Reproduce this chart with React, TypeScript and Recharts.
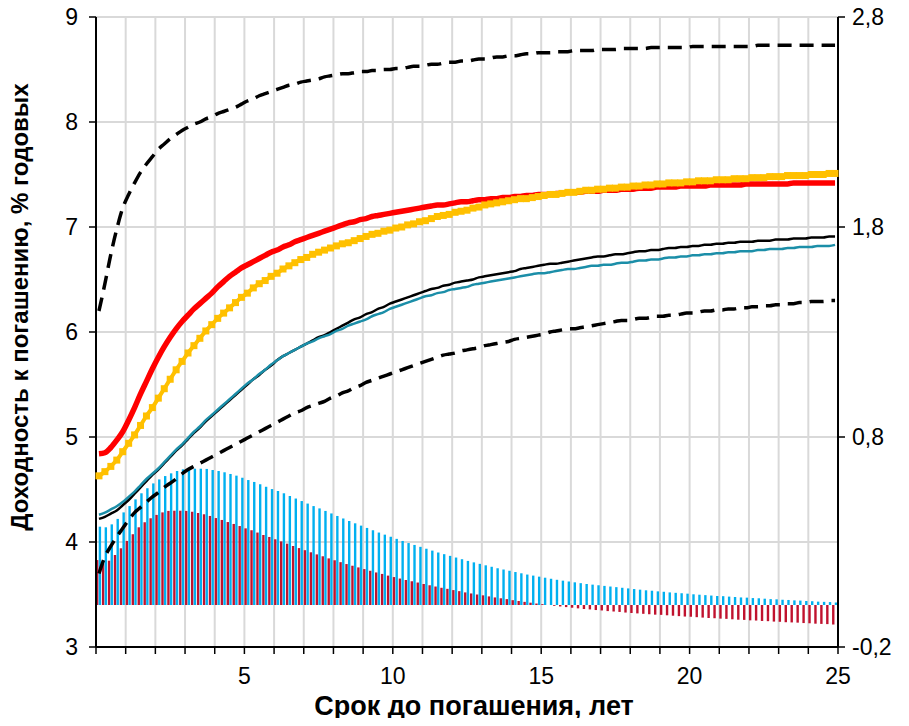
import React from 'react';
import { ComposedChart, Line, Bar, XAxis, YAxis, CartesianGrid } from 'recharts';

const maturities = [
  0.2, 0.4, 0.6, 0.8, 1, 1.2, 1.4, 1.6, 1.8, 2,
  2.2, 2.4, 2.6, 2.8, 3, 3.2, 3.4, 3.6, 3.8, 4,
  4.2, 4.4, 4.6, 4.8, 5, 5.2, 5.4, 5.6, 5.8, 6,
  6.2, 6.4, 6.6, 6.8, 7, 7.2, 7.4, 7.6, 7.8, 8,
  8.2, 8.4, 8.6, 8.8, 9, 9.2, 9.4, 9.6, 9.8, 10,
  10.2, 10.4, 10.6, 10.8, 11, 11.2, 11.4, 11.6, 11.8, 12,
  12.2, 12.4, 12.6, 12.8, 13, 13.2, 13.4, 13.6, 13.8, 14,
  14.2, 14.4, 14.6, 14.8, 15, 15.2, 15.4, 15.6, 15.8, 16,
  16.2, 16.4, 16.6, 16.8, 17, 17.2, 17.4, 17.6, 17.8, 18,
  18.2, 18.4, 18.6, 18.8, 19, 19.2, 19.4, 19.6, 19.8, 20,
  20.2, 20.4, 20.6, 20.8, 21, 21.2, 21.4, 21.6, 21.8, 22,
  22.2, 22.4, 22.6, 22.8, 23, 23.2, 23.4, 23.6, 23.8, 24,
  24.2, 24.4, 24.6, 24.8, 25,
];

const redCurve = [
  4.84, 4.85, 4.90, 4.97, 5.05, 5.16, 5.28, 5.41, 5.53, 5.65,
  5.76, 5.86, 5.95, 6.03, 6.10, 6.16, 6.22, 6.27, 6.32, 6.37,
  6.43, 6.48, 6.53, 6.57, 6.61, 6.64, 6.67, 6.70, 6.73, 6.76,
  6.78, 6.81, 6.83, 6.86, 6.88, 6.90, 6.92, 6.94, 6.96, 6.98,
  7.00, 7.02, 7.04, 7.05, 7.07, 7.08, 7.10, 7.11, 7.12, 7.13,
  7.14, 7.15, 7.16, 7.17, 7.18, 7.19, 7.20, 7.21, 7.21, 7.22,
  7.23, 7.24, 7.24, 7.25, 7.26, 7.26, 7.27, 7.27, 7.28, 7.28,
  7.29, 7.29, 7.30, 7.30, 7.31, 7.31, 7.31, 7.32, 7.32, 7.33,
  7.33, 7.33, 7.34, 7.34, 7.34, 7.35, 7.35, 7.35, 7.36, 7.36,
  7.36, 7.37, 7.37, 7.37, 7.38, 7.38, 7.38, 7.38, 7.39, 7.39,
  7.39, 7.39, 7.39, 7.40, 7.40, 7.40, 7.40, 7.40, 7.40, 7.41,
  7.41, 7.41, 7.41, 7.41, 7.41, 7.41, 7.41, 7.42, 7.42, 7.42,
  7.42, 7.42, 7.42, 7.42, 7.42,
];

const yellowCurve = [
  4.63, 4.67, 4.72, 4.78, 4.86, 4.94, 5.02, 5.11, 5.20, 5.28,
  5.37, 5.46, 5.55, 5.64, 5.72, 5.80, 5.87, 5.94, 6.01, 6.07,
  6.13, 6.18, 6.23, 6.28, 6.33, 6.37, 6.42, 6.46, 6.49, 6.53,
  6.56, 6.60, 6.63, 6.66, 6.69, 6.71, 6.74, 6.76, 6.78, 6.80,
  6.82, 6.84, 6.85, 6.87, 6.89, 6.91, 6.93, 6.94, 6.96, 6.97,
  6.99, 7.00, 7.02, 7.03, 7.05, 7.06, 7.08, 7.10, 7.11, 7.12,
  7.14, 7.15, 7.16, 7.18, 7.19, 7.21, 7.22, 7.23, 7.24, 7.25,
  7.26, 7.27, 7.27, 7.28, 7.29, 7.30, 7.31, 7.31, 7.32, 7.33,
  7.33, 7.34, 7.35, 7.35, 7.36, 7.36, 7.37, 7.37, 7.38, 7.38,
  7.39, 7.39, 7.40, 7.40, 7.41, 7.41, 7.42, 7.42, 7.42, 7.43,
  7.43, 7.44, 7.44, 7.44, 7.45, 7.45, 7.45, 7.46, 7.46, 7.46,
  7.47, 7.47, 7.47, 7.48, 7.48, 7.48, 7.49, 7.49, 7.49, 7.49,
  7.50, 7.50, 7.50, 7.51, 7.51,
];

const blackCurve = [
  4.22, 4.24, 4.27, 4.30, 4.35, 4.40, 4.46, 4.52, 4.58, 4.64,
  4.69, 4.75, 4.81, 4.87, 4.92, 4.98, 5.04, 5.09, 5.15, 5.20,
  5.25, 5.30, 5.35, 5.40, 5.45, 5.50, 5.55, 5.59, 5.64, 5.68,
  5.73, 5.77, 5.80, 5.83, 5.86, 5.89, 5.92, 5.95, 5.97, 6.00,
  6.03, 6.06, 6.09, 6.12, 6.14, 6.17, 6.19, 6.22, 6.24, 6.27,
  6.29, 6.31, 6.33, 6.35, 6.37, 6.39, 6.41, 6.42, 6.44, 6.45,
  6.47, 6.48, 6.49, 6.50, 6.52, 6.53, 6.54, 6.55, 6.56, 6.57,
  6.58, 6.60, 6.61, 6.62, 6.63, 6.64, 6.65, 6.65, 6.66, 6.67,
  6.68, 6.69, 6.70, 6.71, 6.72, 6.72, 6.73, 6.74, 6.74, 6.75,
  6.76, 6.77, 6.77, 6.78, 6.78, 6.79, 6.80, 6.80, 6.81, 6.81,
  6.82, 6.82, 6.83, 6.83, 6.84, 6.84, 6.85, 6.85, 6.86, 6.86,
  6.86, 6.87, 6.87, 6.87, 6.88, 6.88, 6.88, 6.89, 6.89, 6.89,
  6.90, 6.90, 6.90, 6.91, 6.91,
];

const tealCurve = [
  4.26, 4.28, 4.31, 4.34, 4.38, 4.43, 4.48, 4.54, 4.60, 4.65,
  4.70, 4.76, 4.82, 4.88, 4.93, 4.99, 5.05, 5.10, 5.16, 5.21,
  5.26, 5.31, 5.36, 5.41, 5.46, 5.51, 5.55, 5.60, 5.64, 5.69,
  5.73, 5.77, 5.80, 5.83, 5.86, 5.89, 5.91, 5.94, 5.96, 5.98,
  6.01, 6.03, 6.06, 6.08, 6.10, 6.12, 6.15, 6.17, 6.19, 6.22,
  6.24, 6.26, 6.28, 6.30, 6.32, 6.34, 6.35, 6.37, 6.38, 6.40,
  6.41, 6.42, 6.43, 6.45, 6.46, 6.47, 6.48, 6.49, 6.50, 6.51,
  6.52, 6.53, 6.54, 6.55, 6.56, 6.56, 6.57, 6.58, 6.59, 6.60,
  6.60, 6.61, 6.62, 6.63, 6.63, 6.64, 6.64, 6.65, 6.66, 6.66,
  6.67, 6.68, 6.68, 6.69, 6.69, 6.70, 6.71, 6.71, 6.72, 6.72,
  6.73, 6.73, 6.74, 6.74, 6.75, 6.75, 6.76, 6.76, 6.77, 6.77,
  6.77, 6.78, 6.78, 6.79, 6.79, 6.79, 6.80, 6.80, 6.81, 6.81,
  6.81, 6.82, 6.82, 6.82, 6.83,
];

const upperBand = [
  6.20, 6.46, 6.74, 6.98, 7.18, 7.31, 7.42, 7.52, 7.60, 7.67,
  7.74, 7.79, 7.84, 7.88, 7.92, 7.95, 7.98, 8.00, 8.03, 8.05,
  8.08, 8.10, 8.12, 8.14, 8.17, 8.20, 8.22, 8.25, 8.27, 8.29,
  8.31, 8.33, 8.35, 8.36, 8.38, 8.39, 8.40, 8.41, 8.43, 8.44,
  8.45, 8.46, 8.46, 8.47, 8.48, 8.48, 8.49, 8.49, 8.50, 8.50,
  8.51, 8.51, 8.52, 8.53, 8.53, 8.54, 8.55, 8.55, 8.56, 8.57,
  8.57, 8.58, 8.58, 8.59, 8.60, 8.60, 8.61, 8.62, 8.62, 8.63,
  8.63, 8.64, 8.65, 8.65, 8.66, 8.66, 8.66, 8.67, 8.67, 8.67,
  8.68, 8.68, 8.68, 8.68, 8.69, 8.69, 8.69, 8.69, 8.70, 8.70,
  8.70, 8.70, 8.70, 8.71, 8.71, 8.71, 8.71, 8.71, 8.71, 8.71,
  8.72, 8.72, 8.72, 8.72, 8.72, 8.72, 8.72, 8.72, 8.72, 8.72,
  8.72, 8.73, 8.73, 8.73, 8.73, 8.73, 8.73, 8.73, 8.73, 8.73,
  8.73, 8.73, 8.73, 8.73, 8.73,
];

const lowerBand = [
  3.70, 3.86, 3.96, 4.05, 4.13, 4.21, 4.28, 4.33, 4.38, 4.43,
  4.47, 4.52, 4.56, 4.60, 4.65, 4.69, 4.72, 4.75, 4.78, 4.81,
  4.84, 4.87, 4.90, 4.93, 4.96, 4.99, 5.02, 5.05, 5.08, 5.11,
  5.14, 5.17, 5.20, 5.23, 5.25, 5.28, 5.30, 5.32, 5.34, 5.37,
  5.39, 5.42, 5.44, 5.47, 5.49, 5.52, 5.54, 5.56, 5.58, 5.60,
  5.62, 5.64, 5.66, 5.68, 5.70, 5.72, 5.74, 5.76, 5.78, 5.79,
  5.80, 5.82, 5.83, 5.84, 5.85, 5.87, 5.88, 5.89, 5.90, 5.91,
  5.93, 5.94, 5.95, 5.96, 5.97, 5.98, 6.00, 6.01, 6.02, 6.03,
  6.03, 6.04, 6.05, 6.06, 6.07, 6.08, 6.09, 6.10, 6.11, 6.11,
  6.12, 6.13, 6.13, 6.14, 6.15, 6.15, 6.16, 6.16, 6.17, 6.18,
  6.18, 6.19, 6.20, 6.20, 6.21, 6.21, 6.22, 6.22, 6.23, 6.23,
  6.24, 6.24, 6.25, 6.25, 6.26, 6.26, 6.27, 6.27, 6.28, 6.28,
  6.29, 6.29, 6.29, 6.30, 6.30,
];

const blueBars = [
  0.373, 0.370, 0.384, 0.410, 0.441, 0.471, 0.503, 0.532, 0.556, 0.579,
  0.598, 0.614, 0.627, 0.638, 0.646, 0.649, 0.649, 0.649, 0.648, 0.643,
  0.638, 0.632, 0.624, 0.616, 0.606, 0.595, 0.586, 0.575, 0.563, 0.552,
  0.543, 0.532, 0.519, 0.507, 0.495, 0.483, 0.471, 0.460, 0.448, 0.436,
  0.424, 0.412, 0.400, 0.389, 0.378, 0.367, 0.356, 0.345, 0.335, 0.325,
  0.315, 0.305, 0.295, 0.286, 0.277, 0.268, 0.259, 0.250, 0.242, 0.234,
  0.226, 0.218, 0.210, 0.203, 0.196, 0.189, 0.182, 0.175, 0.169, 0.163,
  0.157, 0.151, 0.145, 0.140, 0.135, 0.130, 0.125, 0.120, 0.116, 0.112,
  0.108, 0.104, 0.100, 0.097, 0.094, 0.091, 0.088, 0.085, 0.082, 0.079,
  0.076, 0.073, 0.070, 0.068, 0.065, 0.063, 0.060, 0.058, 0.056, 0.054,
  0.051, 0.049, 0.047, 0.045, 0.043, 0.042, 0.040, 0.038, 0.036, 0.035,
  0.033, 0.032, 0.030, 0.028, 0.027, 0.025, 0.024, 0.022, 0.021, 0.019,
  0.018, 0.016, 0.015, 0.014, 0.012,
];

const redBars = [
  0.214, 0.198, 0.211, 0.238, 0.270, 0.305, 0.337, 0.370, 0.394, 0.413,
  0.429, 0.441, 0.448, 0.449, 0.449, 0.448, 0.444, 0.438, 0.432, 0.424,
  0.414, 0.405, 0.395, 0.386, 0.376, 0.365, 0.356, 0.345, 0.333, 0.324,
  0.313, 0.303, 0.292, 0.281, 0.271, 0.261, 0.251, 0.241, 0.232, 0.222,
  0.213, 0.204, 0.195, 0.187, 0.179, 0.171, 0.163, 0.155, 0.148, 0.140,
  0.133, 0.126, 0.119, 0.113, 0.107, 0.100, 0.094, 0.088, 0.082, 0.077,
  0.071, 0.066, 0.060, 0.055, 0.050, 0.046, 0.041, 0.036, 0.032, 0.028,
  0.023, 0.019, 0.015, 0.011, 0.007, 0.004, 0.000, -0.004, -0.007, -0.010,
  -0.013, -0.016, -0.019, -0.021, -0.024, -0.026, -0.029, -0.031, -0.033, -0.036,
  -0.038, -0.040, -0.042, -0.044, -0.046, -0.047, -0.049, -0.051, -0.053, -0.055,
  -0.056, -0.058, -0.060, -0.062, -0.063, -0.065, -0.066, -0.068, -0.070, -0.071,
  -0.073, -0.074, -0.076, -0.077, -0.079, -0.080, -0.082, -0.083, -0.084, -0.086,
  -0.087, -0.089, -0.090, -0.091, -0.093,
];

const yearTicks = [0, 1, 2, 3, 4, 5, 6, 7, 8, 9, 10, 11, 12, 13, 14, 15, 16, 17, 18, 19, 20, 21, 22, 23, 24, 25];
const leftTicks = [3, 4, 5, 6, 7, 8, 9];
const rightTicks = [-0.2, 0.8, 1.8, 2.8];

const xTitle = 'Срок до погашения, лет';
const yTitle = 'Доходность к погашению, % годовых';

const data = maturities.map((m, i) => ({
  m,
  red: redCurve[i],
  yellow: yellowCurve[i],
  black: blackCurve[i],
  teal: tealCurve[i],
  upper: upperBand[i],
  lower: lowerBand[i],
  blueBar: blueBars[i],
  redBar: redBars[i],
}));

const FONT = '"Liberation Sans", Arial, Helvetica, sans-serif';

const squareDot = (props: any) => {
  const { cx, cy, index } = props;
  if (cx == null || cy == null) return <g key={`sq-${index}`} />;
  return <rect key={`sq-${index}`} x={cx - 3.5} y={cy - 3.5} width={7} height={7} fill="#FFC000" />;
};

const tickStyle = { fill: '#000', fontSize: 23, fontFamily: FONT };
const axisLineStyle = { stroke: '#000', strokeWidth: 2 };
const tickLineStyle = { stroke: '#000', strokeWidth: 1.5 };

const titleStyle: React.CSSProperties = {
  position: 'absolute',
  fontFamily: FONT,
  fontWeight: 'bold',
  color: '#000',
  whiteSpace: 'nowrap',
  lineHeight: '30px',
};

export default function App() {
  return (
    <div style={{ position: 'relative', width: 893, height: 710 }}>
      <ComposedChart
        width={893}
        height={710}
        data={data}
        margin={{ top: 9, right: 0, bottom: 0, left: 0 }}
        barGap={0.3}
        barCategoryGap={0}
      >
        <CartesianGrid xAxisId="num" yAxisId="left" stroke="#D9D9D9" strokeWidth={2} />
        <XAxis xAxisId="cat" dataKey="m" type="category" orientation="top" height={0} hide />
        <XAxis
          xAxisId="num"
          dataKey="m"
          type="number"
          domain={[0, 25]}
          allowDataOverflow
          ticks={yearTicks}
          interval={0}
          tickFormatter={(v: number) => (v % 5 === 0 && v !== 0 ? String(v) : '')}
          height={71}
          tickSize={7}
          tickMargin={14}
          axisLine={axisLineStyle}
          tickLine={tickLineStyle}
          tick={tickStyle}
        />
        <YAxis
          yAxisId="left"
          domain={[3, 9]}
          ticks={leftTicks}
          interval={0}
          width={88}
          tickSize={7}
          tickMargin={11}
          axisLine={axisLineStyle}
          tickLine={tickLineStyle}
          tick={tickStyle}
        />
        <YAxis
          yAxisId="right"
          orientation="right"
          domain={[-0.2, 2.8]}
          ticks={rightTicks}
          interval={0}
          width={63}
          tickSize={7}
          tickMargin={7}
          axisLine={axisLineStyle}
          tickLine={tickLineStyle}
          tick={tickStyle}
          tickFormatter={(v: number) => v.toFixed(1).replace('.', ',')}
        />
        <Bar xAxisId="cat" yAxisId="right" dataKey="redBar" fill="#C0122E" barSize={2.4} isAnimationActive={false} />
        <Bar xAxisId="cat" yAxisId="right" dataKey="blueBar" fill="#00B0F0" barSize={2.4} isAnimationActive={false} />
        <Line type="monotone" xAxisId="cat" yAxisId="left" dataKey="lower" stroke="#000" strokeWidth={3.5} strokeDasharray="14 8" dot={false} activeDot={false} isAnimationActive={false} />
        <Line type="monotone" xAxisId="cat" yAxisId="left" dataKey="upper" stroke="#000" strokeWidth={3.5} strokeDasharray="14 8" dot={false} activeDot={false} isAnimationActive={false} />
        <Line type="monotone" xAxisId="cat" yAxisId="left" dataKey="black" stroke="#000" strokeWidth={2.5} dot={false} activeDot={false} isAnimationActive={false} />
        <Line type="monotone" xAxisId="cat" yAxisId="left" dataKey="teal" stroke="#1B8EA8" strokeWidth={2.5} dot={false} activeDot={false} isAnimationActive={false} />
        <Line type="monotone" xAxisId="cat" yAxisId="left" dataKey="yellow" stroke="#FFC000" strokeWidth={4} dot={squareDot} activeDot={false} isAnimationActive={false} />
        <Line type="monotone" xAxisId="cat" yAxisId="left" dataKey="red" stroke="#FF0000" strokeWidth={5.5} dot={false} activeDot={false} isAnimationActive={false} />
      </ComposedChart>
      <div style={{ ...titleStyle, fontSize: 27, left: 466, top: 683, transform: 'translateX(-50%)' }}>{xTitle}</div>
      <div
        style={{
          ...titleStyle,
          fontSize: 24,
          left: 12,
          top: 299,
          transform: 'translate(-50%, -50%) rotate(-90deg)',
        }}
      >
        {yTitle}
      </div>
    </div>
  );
}
